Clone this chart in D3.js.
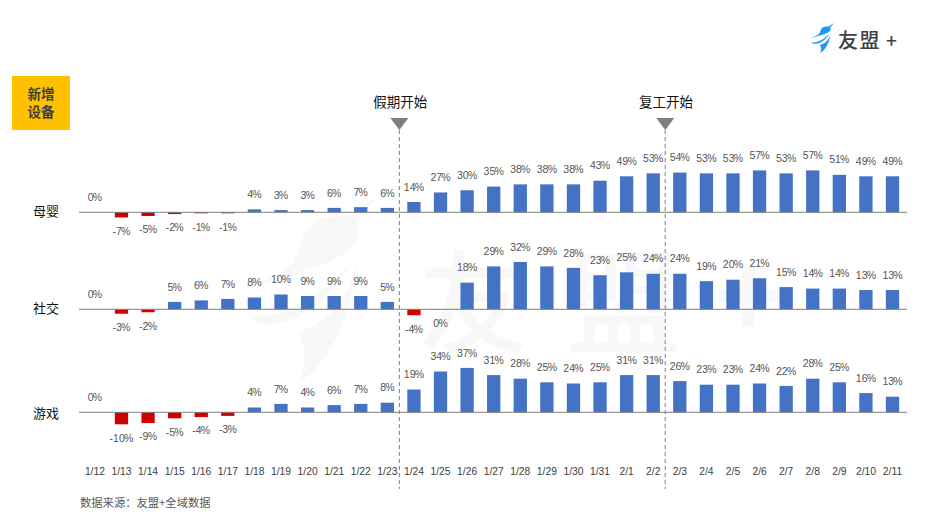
<!DOCTYPE html>
<html>
<head>
<meta charset="utf-8">
<script src="https://cdn.jsdelivr.net/npm/d3@7"></script>
<style>
  html, body { margin: 0; padding: 0; background: #fff; }
  svg { display: block; }
  text { font-family: "Noto Sans CJK SC", "Noto Sans", sans-serif; }
</style>
</head>
<body>
<svg id="chart" width="932" height="517"></svg>
<script>
var dates = ["1/12","1/13","1/14","1/15","1/16","1/17","1/18","1/19","1/20","1/21","1/22","1/23","1/24","1/25","1/26","1/27","1/28","1/29","1/30","1/31","2/1","2/2","2/3","2/4","2/5","2/6","2/7","2/8","2/9","2/10","2/11"];
var rowNames = ["母婴","社交","游戏"];
var muying = [0,-7,-5,-2.4,-1.4,-1.4,4,3,3,6,7,6,14,27,30,35,38,38,38,43,49,53,54,53,53,57,53,57,51,49,49];
var shejiao = [0,-3,-2,5,6,7,8,10,9,9,9,5,-4,-0.2,18,29,32,29,28,23,25,24,24,19,20,21,15,14,14,13,13];
var youxi = [0,-10,-9,-5,-4,-3,4,7,4,6,7,8,19,34,37,31,28,25,24,25,31,31,26,23,23,24,22,28,25,16,13];
var markers = [["1/23","假期开始"],["2/2","复工开始"]];

var svg = d3.select("#chart");
var blue = "#4472c4", red = "#d00000";

var x = d3.scaleBand().domain(dates).range([81.6, 905.8]).paddingInner(0.5).paddingOuter(0.25);

// every row has its own scale, like the separate charts in the original
var rows = [
  { name: rowNames[0], vals: muying, y: d3.scaleLinear().domain([0, 60]).range([212.3, 168.2]) },
  { name: rowNames[1], vals: shejiao, y: d3.scaleLinear().domain([0, 40]).range([309.3, 250.1]) },
  { name: rowNames[2], vals: youxi, y: d3.scaleLinear().domain([0, 40]).range([412.3, 364.3]) }
];

// the bird, used for the watermark and (scaled down) for the logo
var birdParts = [
  "M378 195 L347 217 C335 216 322 217 312 224 C302 232 300 248 293 263 C280 275 255 285 230 290 C270 285 320 270 350 250 C358 240 360 235 358 228 C356 222 358 222 378 195 Z",
  "M247 315 C275 322 318 300 350 263 C335 295 305 322 267 325 C258 325 252 320 247 315 Z",
  "M357 263 C355 300 335 360 300 382 C308 360 305 345 297 332 C330 325 350 295 357 263 Z"
];
function bird(g, color) {
  g.selectAll("path").data(birdParts).join("path").attr("d", function(d) { return d; }).attr("fill", color);
}

// watermark
var wmColor = "#f8f8f8";
bird(svg.append("g"), wmColor);
var wm = svg.append("g").attr("fill", wmColor).attr("font-weight", 500);
wm.append("text").attr("x", 418).attr("y", 344).attr("font-size", 110).text("友");
wm.append("text").attr("x", 567).attr("y", 345).attr("font-size", 114).text("盟");
wm.append("text").attr("x", 714).attr("y", 340).attr("font-size", 118).attr("font-weight", 700).text("+");

// logo
bird(svg.append("g").attr("transform", "translate(808,23) scale(0.176,0.16) translate(-230,-195)"), "#1a9bf5");
svg.append("text").attr("x", 838).attr("y", 48).attr("font-size", 20).attr("letter-spacing", 1.5).attr("font-weight", 500).attr("fill", "#404040").text("友盟");
svg.append("text").attr("x", 886).attr("y", 48).attr("font-size", 19).attr("font-weight", 500).attr("fill", "#404040").text("+");

// title box
svg.append("rect").attr("x", 12).attr("y", 76).attr("width", 58).attr("height", 54).attr("fill", "#ffc000");
svg.append("text").attr("x", 41).attr("y", 99).attr("text-anchor", "middle").attr("font-size", 13.5).attr("font-weight", 700).attr("fill", "#404040").text("新增");
svg.append("text").attr("x", 41).attr("y", 117).attr("text-anchor", "middle").attr("font-size", 13.5).attr("font-weight", 700).attr("fill", "#404040").text("设备");

// dashed markers, they sit between two days
markers.forEach(function(m) {
  var mx = x(m[0]) + x.bandwidth() / 2 + 12;
  svg.append("line").attr("x1", mx).attr("x2", mx).attr("y1", 130).attr("y2", 489)
    .attr("stroke", "#7f7f7f").attr("stroke-width", 1).attr("stroke-dasharray", "4 3");
  svg.append("path").attr("d", d3.line()([[mx - 9, 118], [mx + 9, 118], [mx, 130]]) + "Z").attr("fill", "#7f7f7f");
  svg.append("text").attr("x", mx + 0.8).attr("y", 107).attr("text-anchor", "middle").attr("font-size", 13.5).attr("fill", "#111").text(m[1]);
});

rows.forEach(function(r, ri) {
  var y = r.y, g = svg.append("g");
  g.selectAll("rect").data(r.vals).join("rect")
    .attr("x", function(d, i) { return x(dates[i]); })
    .attr("width", x.bandwidth())
    .attr("y", function(d) { return Math.min(y(d), y(0)); })
    .attr("height", function(d) { return Math.abs(y(d) - y(0)); })
    .attr("fill", function(d) { return d < -0.5 ? red : blue; });
  g.append("line").attr("x1", 79).attr("x2", 907).attr("y1", y(0)).attr("y2", y(0))
    .attr("stroke", "#7f7f7f").attr("stroke-width", 1);
  // the % sign is squeezed in the original
  var labels = g.selectAll("text.val").data(r.vals).join("text").attr("class", "val")
    .attr("x", function(d, i) { return x(dates[i]) + x.bandwidth() / 2; })
    .attr("y", function(d) { return d < 0 ? y(d) + 13.7 : y(d) - 15; })
    .attr("dy", "0.35em")
    .attr("text-anchor", "middle").attr("font-size", 10.5).attr("fill", "#555")
    .style("font-family", "'Liberation Sans', sans-serif");
  labels.append("tspan").text(function(d) { return Math.round(d); });
  labels.append("tspan").style("font-family", "'Liberation Sans Narrow', 'Liberation Sans', sans-serif").attr("font-size", 10.5).attr("dx", -0.8).text("%");
  svg.append("text").attr("x", 46).attr("y", y(0) + (ri == 2 ? 1 : -1)).attr("dy", "0.35em").attr("text-anchor", "middle")
    .attr("font-size", 13).attr("fill", "#111").text(r.name);
});

// date labels
var xAxis = d3.axisBottom(x).tickSize(0).tickPadding(0);
var ax = svg.append("g").attr("transform", "translate(0,468)").call(xAxis);
ax.select(".domain").remove();
ax.selectAll("text").attr("font-size", 10.3).attr("fill", "#404040").style("font-family", "'Liberation Sans', sans-serif");

svg.append("text").attr("x", 80).attr("y", 507).attr("font-size", 11.3).attr("fill", "#595959").text("数据来源：友盟+全域数据");
</script>
</body>
</html>
